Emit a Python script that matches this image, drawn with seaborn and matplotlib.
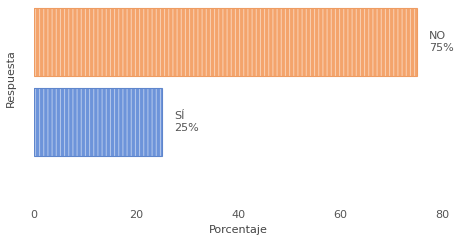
import matplotlib
matplotlib.use("Agg")
import matplotlib.pyplot as plt
import seaborn as sns
import pandas as pd

respuestas = ["NO", "SÍ"]
porcentajes = [75, 25]
etiquetas = ["NO\n75%", "SÍ\n25%"]
colores = ["#F4A46C", "#6D94DA"]
bordes = ["#EE9C62", "#5F86CC"]

sns.set_style("white")
plt.rcParams["font.family"] = ["DejaVu Sans"]
plt.rcParams["hatch.linewidth"] = 0.7

df = pd.DataFrame({"Respuesta": respuestas, "Porcentaje": porcentajes})

fig = plt.figure(figsize=(4.58, 2.46), dpi=100)
ax = fig.add_axes([34/458, 1 - 200/246, 408/458, 196/246])
sns.barplot(data=df, y="Respuesta", x="Porcentaje", hue="Respuesta",
            palette=colores, orient="h", width=0.85, ax=ax, legend=False,
            saturation=1, edgecolor="white", linewidth=0)
for p in ax.patches:
    p.set_hatch("||||")
    p.set_edgecolor((1, 1, 1, 0.5))
n = len(ax.patches)
sns.barplot(data=df, y="Respuesta", x="Porcentaje", hue="Respuesta",
            palette=bordes, orient="h", width=0.85, ax=ax, legend=False,
            saturation=1, fill=False, linewidth=0.8)

for i, (v, t) in enumerate(zip(porcentajes, etiquetas)):
    ax.text(v + 2.5, i, t, va="center", ha="left", fontsize=8, color="#555555",
            linespacing=1.2)

ax.set_xlim(0, 80)
ax.set_ylim(1.975, -0.475)
ax.set_xticks([0, 20, 40, 60, 80])
ax.set_yticks([])
ax.tick_params(axis="x", labelsize=8, labelcolor="#555555", length=0, pad=7)
ax.set_xlabel("Porcentaje", fontsize=8, color="#444444", labelpad=4)
ax.set_ylabel("Respuesta", fontsize=8, color="#444444")
ax.yaxis.set_label_coords(-0.045, 0.62)
sns.despine(ax=ax, left=True, bottom=True)

fig.savefig("out.png", dpi=100)
